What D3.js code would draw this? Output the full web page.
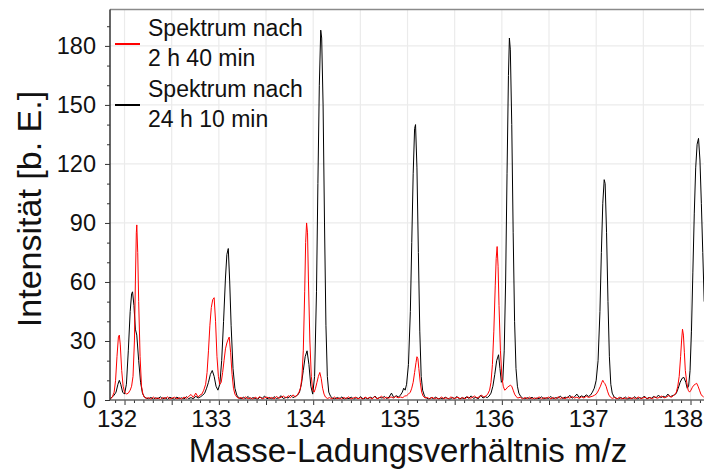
<!DOCTYPE html>
<html><head><meta charset="utf-8">
<script src="https://cdn.jsdelivr.net/npm/d3@7/dist/d3.min.js"></script>
<style>body{margin:0;background:#fff}svg{display:block}text{font-family:"Liberation Sans",Arial,sans-serif}</style>
</head><body>
<svg id="c" width="704" height="470"></svg>
<script>
// ---- data ----
const xTickValues = [132, 133, 134, 135, 136, 137, 138];
const yTickValues = [0, 30, 60, 90, 120, 150, 180];
const xTitle = "Masse-Ladungsverhältnis m/z";
const yTitle = "Intensität [b. E.]";
const seriesNames = [["Spektrum nach", "2 h 40 min"], ["Spektrum nach", "24 h 10 min"]];
const seriesColors = ["#ff0000", "#000000"];

// Spektrum nach 2 h 40 min  [m/z, Intensität]
const spectrumRed = [
[131.85,0.5],[131.87,1.5],[131.89,4],[131.905,10],[131.92,22],[131.935,32],[131.945,33],[131.955,28],[131.97,15],[131.985,7],[132.00,4],[132.02,3],[132.04,3.5],[132.06,5],[132.075,7],[132.09,12],[132.105,30],[132.115,60],[132.125,85],[132.13,89],[132.14,75],[132.15,50],[132.165,22],[132.18,7],[132.195,3],[132.21,1.5],[132.23,0.8],
[132.255,1.2],[132.28,0.4],[132.305,1.5],[132.33,0.6],[132.355,1.1],[132.38,0.3],[132.405,1.3],[132.43,0.7],[132.455,1.6],[132.48,0.5],[132.505,1.0],[132.53,1.4],[132.555,0.6],[132.58,1.2],[132.605,0.4],[132.63,1.5],[132.655,0.8],[132.68,1.8],[132.705,2.8],[132.73,1.3],[132.755,3.5],[132.78,1.5],[132.80,2.5],
[132.82,3],[132.84,5],[132.86,8],[132.875,14],[132.89,25],[132.905,38],[132.92,47],[132.935,51],[132.95,52],[132.965,40],[132.98,22],[132.995,12],[133.01,8],[133.025,9],[133.04,14],[133.055,20],[133.07,26],[133.085,29],[133.10,31],[133.11,32],[133.125,24],[133.14,13],[133.155,6],[133.17,3],[133.19,1.5],[133.21,0.8],
[133.235,1.3],[133.26,0.5],[133.285,1.6],[133.31,0.6],[133.335,1.2],[133.36,0.4],[133.385,1.4],[133.41,0.8],[133.435,1.7],[133.46,0.5],[133.485,1.1],[133.51,1.5],[133.535,0.7],[133.56,1.3],[133.585,0.5],[133.61,1.8],[133.635,0.9],[133.66,1.4],[133.685,2.0],[133.71,1.0],[133.735,2.2],[133.76,1.2],[133.785,2.6],[133.81,1.6],
[133.83,2.5],[133.85,4],[133.865,6],[133.88,11],[133.895,25],[133.91,55],[133.92,80],[133.93,90],[133.94,85],[133.95,60],[133.965,30],[133.98,12],[133.995,5],[134.01,4],[134.025,6],[134.04,9],[134.055,12],[134.07,14],[134.085,11],[134.10,6],[134.115,3],[134.13,1.5],[134.15,0.8],
[134.175,1.2],[134.20,0.5],[134.225,1.5],[134.25,0.6],[134.275,1.1],[134.30,0.4],[134.325,1.3],[134.35,0.7],[134.375,1.6],[134.40,0.5],[134.425,1.0],[134.45,1.4],[134.475,0.6],[134.50,1.2],[134.525,0.4],[134.55,1.5],[134.575,0.8],[134.60,1.3],[134.625,0.5],[134.65,1.7],[134.675,0.7],[134.70,1.1],[134.725,1.9],[134.75,0.8],[134.775,1.4],[134.80,0.9],[134.825,1.6],[134.85,1.0],[134.875,1.8],[134.90,1.1],[134.925,1.5],[134.95,1.2],[134.97,2.0],
[134.99,2.2],[135.01,3],[135.03,4],[135.045,6],[135.06,9],[135.075,14],[135.09,19],[135.10,22],[135.11,21],[135.12,16],[135.135,9],[135.15,4],[135.165,2],[135.185,1],
[135.21,1.3],[135.235,0.5],[135.26,1.4],[135.285,0.6],[135.31,1.1],[135.335,0.4],[135.36,1.5],[135.385,0.7],[135.41,1.2],[135.435,0.5],[135.46,1.6],[135.485,0.8],[135.51,1.0],[135.535,1.4],[135.56,0.6],[135.585,1.3],[135.61,0.5],[135.635,1.7],[135.66,0.9],[135.685,1.2],[135.71,2.0],[135.735,1.0],[135.76,1.6],[135.785,2.4],[135.81,1.5],[135.83,2.0],
[135.85,3],[135.87,5],[135.885,9],[135.90,18],[135.915,35],[135.93,58],[135.94,72],[135.95,78],[135.96,68],[135.97,48],[135.985,25],[136.00,12],[136.015,7],[136.03,5],[136.045,5.5],[136.06,6.5],[136.075,7],[136.09,7.5],[136.105,7],[136.12,5],[136.135,3],[136.15,1.8],[136.17,1],
[136.195,1.4],[136.22,0.5],[136.245,1.3],[136.27,0.6],[136.295,1.5],[136.32,0.4],[136.345,1.1],[136.37,0.7],[136.395,1.6],[136.42,0.5],[136.445,1.2],[136.47,0.8],[136.495,1.5],[136.52,0.6],[136.545,1.3],[136.57,0.4],[136.595,1.7],[136.62,0.8],[136.645,1.2],[136.67,0.6],[136.695,1.5],[136.72,0.9],[136.745,1.8],[136.77,1.0],[136.795,1.4],[136.82,0.8],[136.845,1.6],[136.87,1.0],[136.895,1.9],[136.92,1.3],[136.945,1.7],[136.965,2.0],
[136.985,2.5],[137.00,3],[137.015,4],[137.03,5.5],[137.045,7],[137.06,9],[137.07,10],[137.08,9],[137.09,8.5],[137.105,7],[137.12,4.5],[137.135,2.5],[137.15,1.5],[137.17,0.8],
[137.195,1.3],[137.22,0.5],[137.245,1.4],[137.27,0.6],[137.295,1.1],[137.32,0.4],[137.345,1.5],[137.37,0.7],[137.395,1.2],[137.42,0.5],[137.445,1.6],[137.47,0.8],[137.495,1.0],[137.52,1.4],[137.545,0.6],[137.57,1.3],[137.595,0.5],[137.62,1.7],[137.645,0.9],[137.67,1.3],[137.695,2.0],[137.72,1.1],[137.745,1.5],[137.77,2.3],[137.795,1.4],[137.815,2.0],
[137.835,3],[137.85,4],[137.865,7],[137.88,12],[137.895,22],[137.905,30],[137.915,36],[137.925,33],[137.935,24],[137.945,15],[137.96,9],[137.975,5],[137.99,4],[138.005,5],[138.02,6.5],[138.035,7.5],[138.05,8],[138.065,8.5],[138.08,7],[138.095,5],[138.11,3],[138.125,2],[138.14,1.5]
];

// Spektrum nach 24 h 10 min  [m/z, Intensität]
const spectrumBlack = [
[131.85,0.8],[131.87,1.5],[131.89,2.5],[131.91,4],[131.93,8],[131.945,10],[131.96,8],[131.98,4],[132.00,3],[132.02,8],[132.04,25],[132.06,45],[132.075,54],[132.085,55],[132.10,48],[132.115,36],[132.13,33],[132.15,20],[132.17,9],[132.19,3.5],[132.21,1.5],[132.23,1],
[132.255,0.6],[132.28,1.3],[132.305,0.4],[132.33,1.1],[132.355,0.7],[132.38,1.6],[132.405,0.5],[132.43,1.2],[132.455,0.3],[132.48,1.4],[132.505,0.8],[132.53,0.4],[132.555,1.5],[132.58,0.6],[132.605,1.1],[132.63,0.5],[132.655,1.7],[132.68,0.7],[132.705,1.2],[132.73,0.6],[132.755,1.9],[132.78,1.0],[132.805,1.6],
[132.83,2.5],[132.85,3.5],[132.87,6],[132.89,9],[132.91,13],[132.93,15],[132.95,12],[132.97,7],[132.99,5],[133.01,8],[133.03,20],[133.05,40],[133.07,62],[133.085,74],[133.10,77],[133.115,60],[133.13,38],[133.15,16],[133.17,6],[133.19,2.5],[133.21,1.2],
[133.235,0.5],[133.26,1.4],[133.285,0.7],[133.31,1.8],[133.335,0.4],[133.36,1.2],[133.385,0.8],[133.41,0.3],[133.435,1.5],[133.46,0.9],[133.485,2.0],[133.51,0.6],[133.535,1.3],[133.56,0.5],[133.585,1.7],[133.61,0.8],[133.635,1.1],[133.66,2.2],[133.685,0.7],[133.71,1.4],[133.735,1.0],[133.76,2.4],[133.785,1.2],[133.81,1.8],
[133.835,2.5],[133.855,4],[133.875,8],[133.895,15],[133.915,22],[133.935,25],[133.955,18],[133.975,7],[133.995,3],[134.015,12],[134.035,55],[134.05,110],[134.065,160],[134.08,188],[134.09,184],[134.105,150],[134.12,90],[134.135,38],[134.15,12],[134.165,4],[134.185,1.8],[134.205,1],
[134.23,0.5],[134.255,1.3],[134.28,0.6],[134.305,1.6],[134.33,0.4],[134.355,1.0],[134.38,0.7],[134.405,1.5],[134.43,0.3],[134.455,1.2],[134.48,0.8],[134.505,1.7],[134.53,0.5],[134.555,1.1],[134.58,0.6],[134.605,1.4],[134.63,0.9],[134.655,2.0],[134.68,0.6],[134.705,1.3],[134.73,1.0],[134.755,1.8],[134.78,0.7],[134.805,1.5],[134.83,3.5],[134.855,1.2],[134.88,2.2],[134.905,1.5],
[134.925,2.5],[134.945,4],[134.96,6],[134.975,5],[134.99,8],[135.01,18],[135.03,45],[135.045,80],[135.06,115],[135.075,138],[135.085,140],[135.10,118],[135.115,75],[135.13,35],[135.145,12],[135.16,5],[135.18,2],[135.20,1],
[135.225,0.4],[135.25,1.2],[135.275,0.7],[135.30,1.5],[135.325,0.5],[135.35,1.0],[135.375,0.6],[135.40,1.4],[135.425,0.8],[135.45,0.3],[135.475,1.3],[135.50,0.7],[135.525,1.8],[135.55,0.5],[135.575,1.1],[135.60,0.7],[135.625,1.6],[135.65,0.9],[135.675,2.1],[135.70,0.8],[135.725,1.4],[135.75,0.6],[135.775,2.5],[135.80,1.0],[135.825,1.7],[135.845,1.2],
[135.865,2],[135.885,3.5],[135.905,7],[135.925,13],[135.945,20],[135.965,23],[135.98,16],[135.995,9],[136.01,10],[136.025,25],[136.04,60],[136.055,115],[136.07,165],[136.08,184],[136.09,178],[136.105,140],[136.12,85],[136.135,40],[136.15,16],[136.165,7],[136.18,3.5],[136.20,1.8],[136.22,1],
[136.245,0.5],[136.27,1.2],[136.295,0.6],[136.32,1.4],[136.345,0.4],[136.37,1.0],[136.395,0.7],[136.42,1.6],[136.445,0.5],[136.47,1.1],[136.495,0.8],[136.52,1.8],[136.545,0.6],[136.57,1.2],[136.595,0.9],[136.62,2.0],[136.645,0.7],[136.67,1.5],[136.695,1.0],[136.72,2.4],[136.745,0.9],[136.77,1.6],[136.795,3.0],[136.82,1.3],[136.845,2.1],[136.87,1.5],[136.895,2.6],[136.92,1.8],
[136.94,2.5],[136.96,4],[136.98,6],[137.00,10],[137.02,20],[137.04,45],[137.055,75],[137.07,100],[137.085,112],[137.095,110],[137.11,85],[137.125,50],[137.14,22],[137.155,8],[137.17,3.5],[137.19,1.5],[137.21,1],
[137.235,0.5],[137.26,1.3],[137.285,0.6],[137.31,1.5],[137.335,0.4],[137.36,1.1],[137.385,0.7],[137.41,1.7],[137.435,0.5],[137.46,1.2],[137.485,0.8],[137.51,2.0],[137.535,0.6],[137.56,1.3],[137.585,0.9],[137.61,1.8],[137.635,1.1],[137.66,2.5],[137.685,1.2],[137.71,1.9],[137.735,1.4],[137.76,3.0],[137.785,1.6],[137.81,2.3],
[137.83,2.5],[137.85,3.5],[137.87,6],[137.89,9],[137.91,11],[137.93,11.5],[137.95,9],[137.965,6],[137.98,7],[137.995,15],[138.01,35],[138.025,65],[138.04,95],[138.055,118],[138.07,130],[138.085,133],[138.10,122],[138.115,100],[138.13,75],[138.145,50]
];

// ---- layout ----
const plotLeft = 110, plotTop = 9.5, plotBottom = 400, plotRight = 704;
const svg = d3.select("#c");

const x = d3.scaleLinear().domain([131.846, 138.143]).range([plotLeft, plotRight]);
const y = d3.scaleLinear().domain([0, 198.5]).range([plotBottom, plotTop]);

// grid
const xGrid = d3.range(132, 138.01, 0.5);
svg.append("g").selectAll("line").data(xGrid).join("line")
  .attr("x1", d => x(d)).attr("x2", d => x(d)).attr("y1", plotTop).attr("y2", plotBottom)
  .attr("stroke", "#ebebeb").attr("stroke-width", 1.2);
svg.append("g").selectAll("line").data(yTickValues.slice(1)).join("line")
  .attr("x1", plotLeft).attr("x2", plotRight).attr("y1", d => y(d)).attr("y2", d => y(d))
  .attr("stroke", "#ebebeb").attr("stroke-width", 1.2);

// clip
svg.append("clipPath").attr("id", "clip").append("rect")
  .attr("x", plotLeft).attr("y", plotTop).attr("width", plotRight - plotLeft).attr("height", plotBottom - plotTop);

const line = d3.line().x(d => x(d[0])).y(d => y(d[1]));
const plot = svg.append("g").attr("clip-path", "url(#clip)");
plot.append("path").datum(spectrumBlack).attr("d", line)
  .attr("fill", "none").attr("stroke", seriesColors[1]).attr("stroke-width", 1);
plot.append("path").datum(spectrumRed).attr("d", line)
  .attr("fill", "none").attr("stroke", seriesColors[0]).attr("stroke-width", 1);

// x axis ticks
const xMinor = d3.range(131.9, 138.15, 0.1).filter(v => Math.abs(v * 2 - Math.round(v * 2)) > 0.01);
svg.append("g").attr("transform", `translate(0,${plotBottom})`)
  .call(d3.axisBottom(x).tickValues(xMinor).tickSize(3).tickFormat(""))
  .call(g => g.select(".domain").remove())
  .call(g => g.selectAll("line").attr("stroke", "#333"));
svg.append("g").attr("transform", `translate(0,${plotBottom})`)
  .call(d3.axisBottom(x).tickValues(xGrid).tickSize(5).tickFormat(""))
  .call(g => g.select(".domain").remove())
  .call(g => g.selectAll("line").attr("stroke", "#333"));
svg.append("g").attr("transform", `translate(0,${plotBottom})`)
  .call(d3.axisBottom(x).tickValues(xTickValues).tickSize(0).tickPadding(10).tickFormat(d3.format("d")))
  .call(g => g.select(".domain").remove())
  .call(g => g.selectAll("text").attr("font-size", 24).attr("fill", "#111").attr("dx", -8)
      .attr("font-family", '"Liberation Sans", Arial, sans-serif'));

// y axis ticks
const yMinor = d3.range(10, 191, 10).filter(v => v % 30 !== 0);
svg.append("g").attr("transform", `translate(${plotLeft},0)`)
  .call(d3.axisLeft(y).tickValues(yMinor).tickSize(3).tickFormat(""))
  .call(g => g.select(".domain").remove())
  .call(g => g.selectAll("line").attr("stroke", "#333"));
svg.append("g").attr("transform", `translate(${plotLeft},0)`)
  .call(d3.axisLeft(y).tickValues(yTickValues).tickSize(5).tickPadding(9).tickFormat(d3.format("d")))
  .call(g => g.select(".domain").remove())
  .call(g => g.selectAll("line").attr("stroke", "#333"))
  .call(g => g.selectAll("text").attr("font-size", 23.5).attr("fill", "#111")
      .attr("font-family", '"Liberation Sans", Arial, sans-serif'));

// frame
svg.append("line").attr("x1", plotLeft).attr("x2", plotRight).attr("y1", plotTop).attr("y2", plotTop)
  .attr("stroke", "#8a8a8a").attr("stroke-width", 1.5);
svg.append("line").attr("x1", plotLeft).attr("x2", plotRight).attr("y1", plotBottom).attr("y2", plotBottom)
  .attr("stroke", "#666").attr("stroke-width", 1.5);
svg.append("line").attr("x1", plotLeft).attr("x2", plotLeft).attr("y1", plotTop).attr("y2", plotBottom)
  .attr("stroke", "#333").attr("stroke-width", 1.5);

// titles
svg.append("text").attr("x", 408).attr("y", 462).attr("text-anchor", "middle")
  .attr("font-size", 33).attr("fill", "#111").text(xTitle);
svg.append("text").attr("transform", "translate(41,209) rotate(-90)").attr("text-anchor", "middle")
  .attr("font-size", 34).attr("fill", "#111").text(yTitle);

// legend
const legY = [44, 105];
seriesNames.forEach((lines, i) => {
  svg.append("line").attr("x1", 115).attr("x2", 140).attr("y1", legY[i]).attr("y2", legY[i])
    .attr("stroke", seriesColors[i]).attr("stroke-width", 2);
  lines.forEach((t, j) => {
    svg.append("text").attr("x", 148).attr("y", legY[i] - 8 + j * 29.5)
      .attr("font-size", 23).attr("fill", "#111").text(t);
  });
});
</script>
</body></html>
